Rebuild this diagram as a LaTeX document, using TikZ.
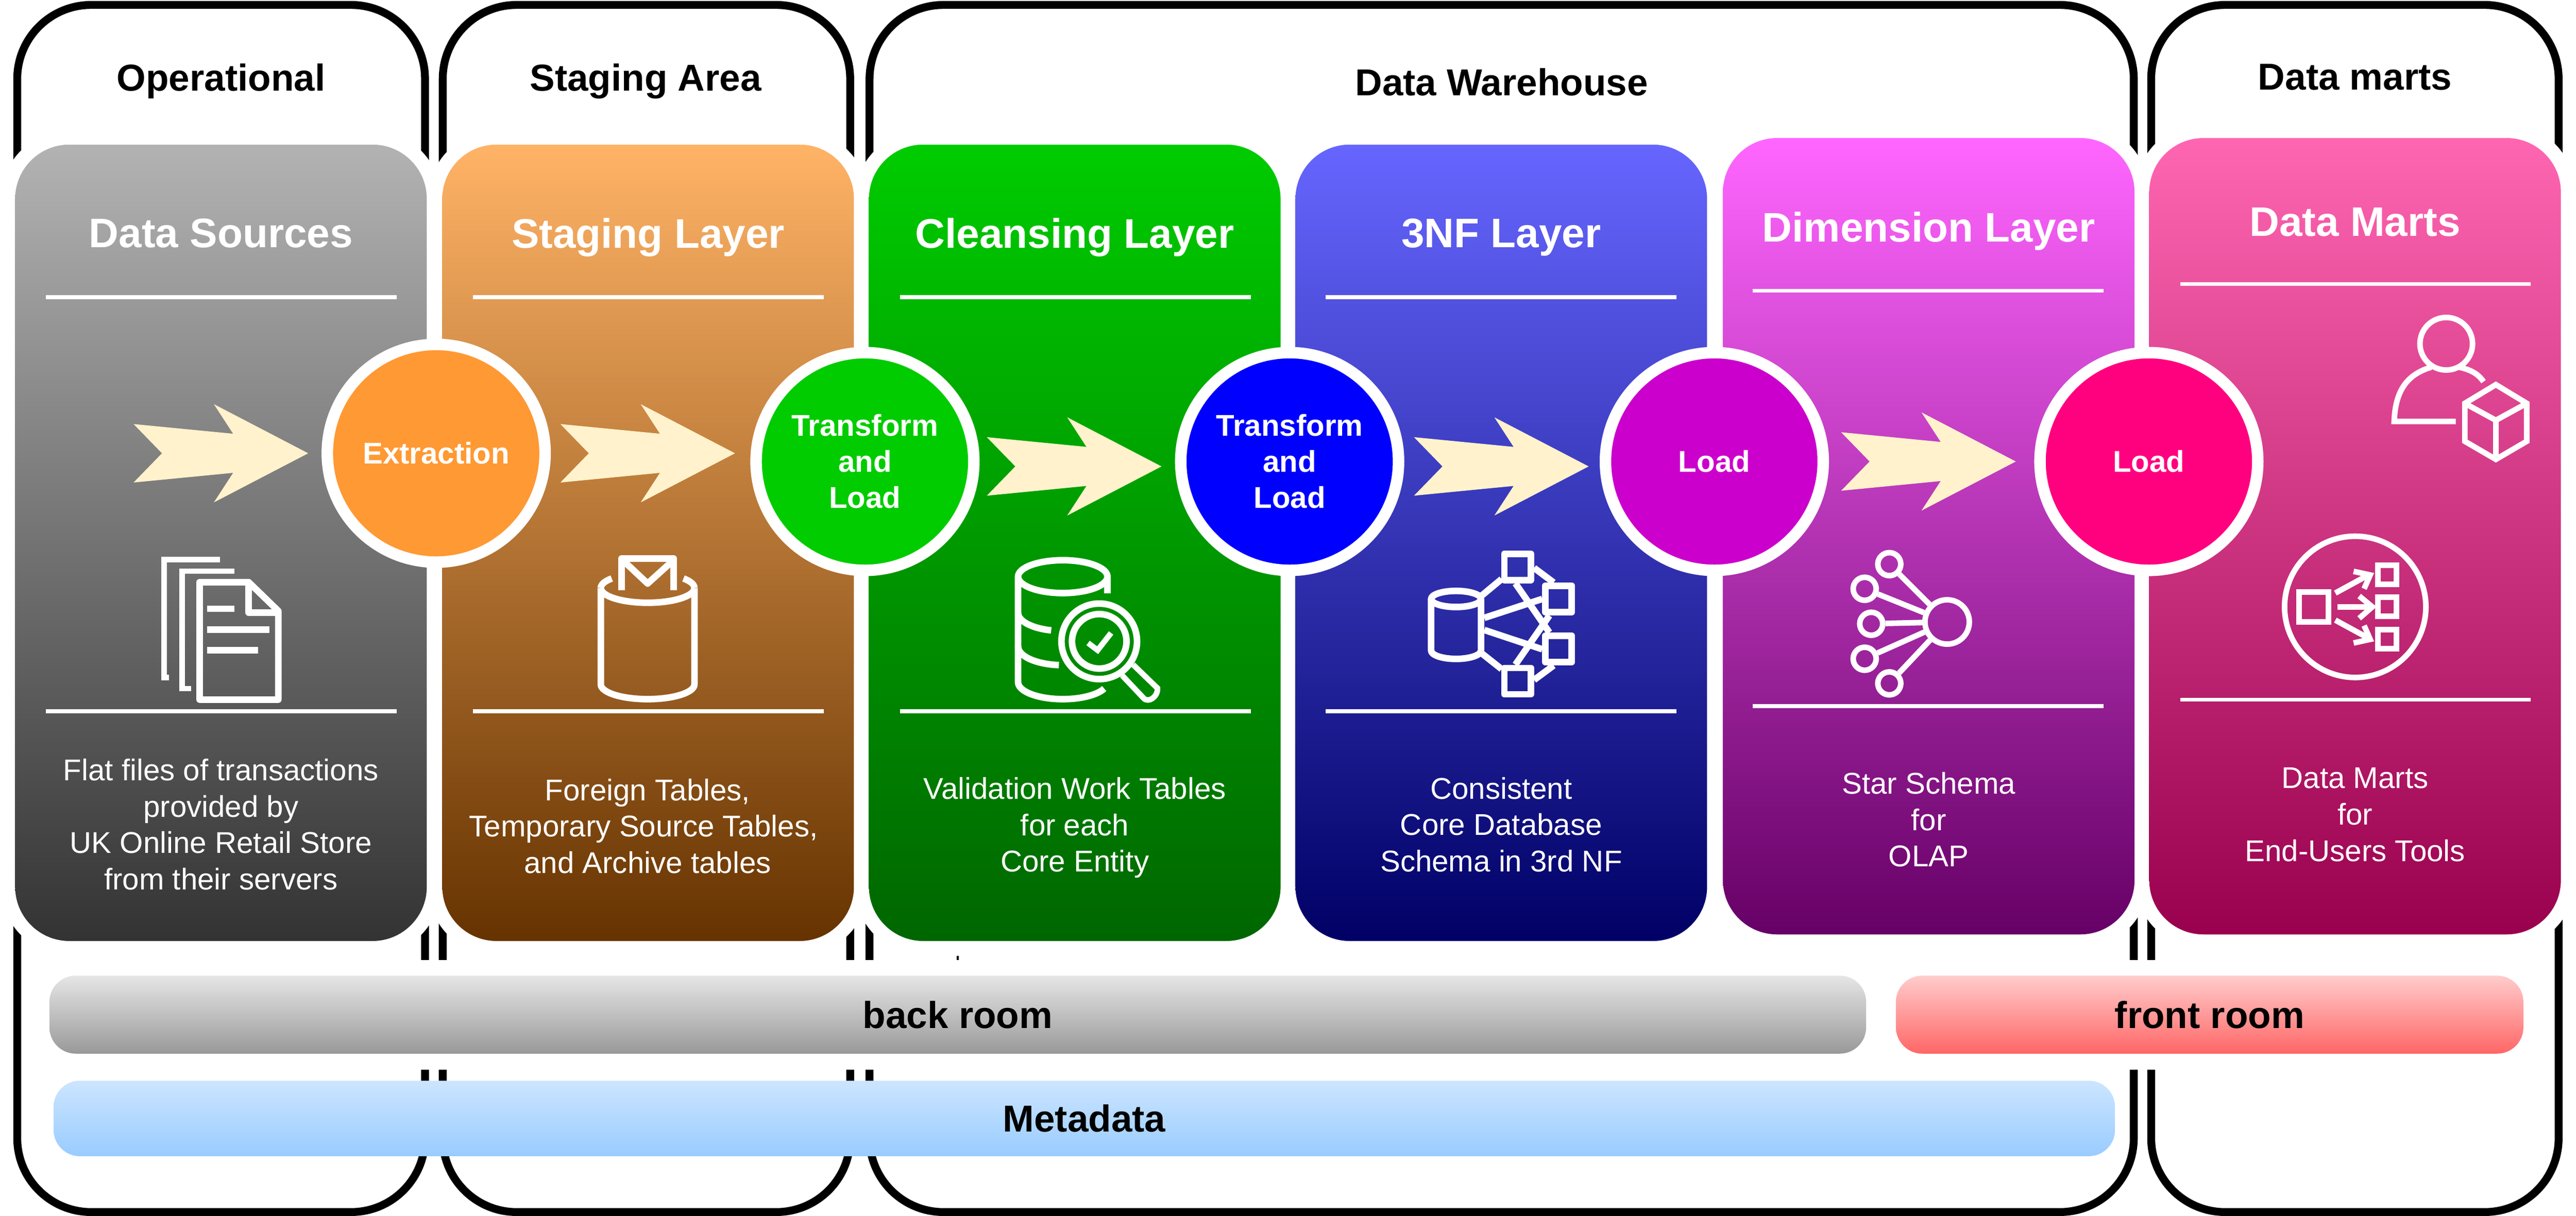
\documentclass[tikz,border=0pt]{standalone}
\usepackage{fontspec}
\setmainfont{Liberation Sans}
\usepackage{tikz}
\definecolor{arrow_cream}{HTML}{FFF2CC}

\begin{document}
\begin{tikzpicture}[x=0.02cm, y=-0.02cm,
                    frame_line/.style={draw=black, line width=.096cm, rounded corners=.9cm},
                    panel_box/.style={rectangle, rounded corners=.66cm, minimum width=5.012cm, minimum height=9.7cm,
                                      inner sep=0pt, preaction={draw=white, line width=.344cm}},
                    bar_box/.style={rectangle, rounded corners=.32cm, inner sep=0pt, minimum height=.95cm,
                                    font=\fontsize{13}{15}\selectfont\bfseries},
                    step_circle/.style={circle, draw=white, line width=.14cm, minimum size=2.652cm, inner sep=0pt, text=white, align=center,
                                        font=\fontsize{10.4}{12.5}\selectfont\bfseries},
                    area_title/.style={text depth=0pt, font=\fontsize{13}{15}\selectfont\bfseries},
                    panel_title/.style={text=white, text depth=0pt, font=\fontsize{14.3}{17}\selectfont\bfseries},
                    panel_text/.style={text=white, align=center, font=\fontsize{10.4}{12.6}\selectfont},
                    rule_line/.style={draw=white, line width=.048cm},
                    icon_line/.style={draw=white, line width=.08cm, line join=round},
                    thin_icon/.style={draw=white, line width=.068cm},
                    block_arrow/.style={fill=arrow_cream}]
    \useasboundingbox (0,0) rectangle (1568,740.3);

    % outer areas
    \draw[frame_line] (10.5,3) rectangle (258.7,738);
    \draw[frame_line] (269.5,3) rectangle (517.5,738);
    \draw[frame_line] (529.3,3) rectangle (1298.8,738);
    \draw[frame_line] (1309.4,3) rectangle (1557.4,738);
    \node (t_operational) [area_title] at (134.5,47) {Operational};
    \node (t_staging) [area_title] at (393,47) {Staging Area};
    \node (t_warehouse) [area_title] at (914,50) {Data Warehouse};
    \node (t_marts) [area_title] at (1433.5,47) {Data marts};

    % layers
    \node (p1) [panel_box, top color=black!30, bottom color=black!80] at (134.5,330.5) {};
    \node (p2) [panel_box, top color={rgb,255:red,255;green,179;blue,102}, bottom color={rgb,255:red,102;green,51;blue,0}] at (394.5,330.5) {};
    \node (p3) [panel_box, top color={rgb,255:red,0;green,204;blue,0}, bottom color={rgb,255:red,0;green,102;blue,0}] at (654.2,330.5) {};
    \node (p4) [panel_box, top color={rgb,255:red,102;green,102;blue,255}, bottom color={rgb,255:red,0;green,0;blue,102}] at (913.8,330.5) {};
    \node (p5) [panel_box, top color={rgb,255:red,255;green,102;blue,255}, bottom color={rgb,255:red,102;green,0;blue,102}] at (1174,326.5) {};
    \node (p6) [panel_box, top color={rgb,255:red,255;green,102;blue,178}, bottom color={rgb,255:red,153;green,0;blue,77}] at (1433.5,326.5) {};

    \foreach \x/\y/\z in {28/181/433, 288/181/433, 548/181/433, 807/181/433, 1067/177/430, 1327/173/426} {
        \draw[rule_line] (\x,\y) -- ++(213.5,0);
        \draw[rule_line] (\x,\z) -- ++(213.5,0);
    }

    \node (h1) [panel_title] at (134.5,142) {Data Sources};
    \node (h2) [panel_title] at (394.5,142) {Staging Layer};
    \node (h3) [panel_title] at (654.2,142) {Cleansing Layer};
    \node (h4) [panel_title] at (913.8,142) {3NF Layer};
    \node (h5) [panel_title] at (1174,138) {Dimension Layer};
    \node (h6) [panel_title] at (1433.5,135) {Data Marts};

    \node (d1) [panel_text] at (134.5,502) {Flat files of transactions\\provided by\\UK Online Retail Store\\from their servers};
    \node (d2) [panel_text] at (394.2,503) {Foreign Tables,\\Temporary Source Tables,\hspace*{.1cm}\mbox{}\\and Archive tables};
    \node (d3) [panel_text] at (654.2,504) {Validation Work Tables\\for each\\Core Entity};
    \node (d4) [panel_text] at (913.8,502) {Consistent\\Core Database\\Schema in 3rd NF};
    \node (d5) [panel_text] at (1174,499) {Star Schema\\for\\OLAP};
    \node (d6) [panel_text] at (1433.5,496) {Data Marts\\for\\End-Users Tools};

    % bars
    \fill[white] (14,584.6) rectangle (1554,651.2);
    \fill[black] (582.4,582.1) rectangle (583.6,584.6);
    \node (back_room) [bar_box, minimum width=22.12cm, top color=black!10, bottom color=black!40] at (583,617.8) {back room};
    \node (front_room) [bar_box, minimum width=7.64cm, top color={rgb,255:red,255;green,204;blue,204}, bottom color={rgb,255:red,255;green,102;blue,102}] at (1345,617.8) {front room};
    \node (metadata) [bar_box, minimum width=25.1cm, minimum height=.92cm, top color={rgb,255:red,204;green,229;blue,255}, bottom color={rgb,255:red,153;green,204;blue,255}] at (660,681) {Metadata};

    % arrows
    \foreach \x/\y in {187.6/276, 447.4/276, 707/284, 967/284, 1227/281} {
        \fill[block_arrow] (\x,\y) -- ++(-57.4,-29.9) -- ++(11.7,18) -- ++(-60.6,-5.9) -- ++(17.3,17.8)
            -- ++(-17.3,17.8) -- ++(60.6,-5.9) -- ++(-11.7,18) -- cycle;
    }

    % steps
    \node (s1) [step_circle, fill={rgb,255:red,255;green,153;blue,51}] at (265.5,276) {Extraction};
    \node (s2) [step_circle, fill={rgb,255:red,0;green,204;blue,0}] at (526.5,281) {Transform\\and\\Load};
    \node (s3) [step_circle, fill={rgb,255:red,0;green,0;blue,255}] at (785,281) {Transform\\and\\Load};
    \node (s4) [step_circle, fill={rgb,255:red,204;green,0;blue,204}] at (1043.5,281) {Load};
    \node (s5) [step_circle, fill={rgb,255:red,255;green,0;blue,127}] at (1308,281) {Load};

    % files icon
    \draw[icon_line] (151.4,354.5) -- (121.5,354.5) -- (121.5,426) -- (169.4,426) -- (169.4,372) -- cycle;
    \draw[icon_line] (151.4,354.5) -- (151.4,373) -- (169.4,373);
    \draw[thin_icon] (142.6,347.8) -- (110.9,347.8) -- (110.9,419.3) -- (116.2,419.3);
    \draw[thin_icon] (133.8,340.6) -- (100,340.6) -- (100,412.6) -- (103,412.6);
    \draw[icon_line] (126,370.7) -- (142.6,370.7);
    \draw[icon_line] (126,383.3) -- (164,383.3);
    \draw[icon_line] (126,395.8) -- (157,395.8);

    % staging icon
    \draw[icon_line] (422.7,358) arc (0:180:28.5 and 9);
    \draw[icon_line] (365.7,358) arc (180:220:28.5 and 9);
    \draw[icon_line] (422.7,358) arc (0:-40:28.5 and 9);
    \draw[icon_line] (365.7,358) -- (365.7,416.7) arc (180:0:28.5 and 9) -- (422.7,358);
    \draw[icon_line] (378.4,359.3) -- (378.4,340) -- (410,340) -- (410,359.3);
    \draw[icon_line] (379,341) -- (394.2,355.3) -- (410,341);

    % cleansing icon
    \draw[icon_line] (646.9,351.1) ellipse (27.2 and 10);
    \draw[icon_line] (619.7,351.1) -- (619.7,415.4) arc (180:22:27.2 and 10.3);
    \draw[icon_line] (674.1,351.1) -- (674.1,361.2);
    \draw[icon_line] (619.7,373.2) arc (180:105:27.2 and 11);
    \draw[icon_line] (619.7,393.6) arc (180:95:27.2 and 11.4);
    \draw[icon_line] (669.1,390.5) circle (23);
    \draw[icon_line] (669.1,390.5) circle (16.6);
    \draw[thin_icon] (662.3,391.5) -- (668.1,395.9) -- (676.3,385.4);
    \draw[thin_icon] (683,411.2) -- (696,425) .. controls (699,428.5) and (705,424) .. (704.5,419) -- (689.7,404.7);

    % 3NF icon
    \draw[icon_line] (886.3,364.7) ellipse (15.2 and 4.9);
    \draw[icon_line] (871.1,364.7) -- (871.1,396.1) arc (180:0:15.2 and 5.1) -- (901.5,364.7);
    \foreach \x/\y in {915.7/337.2, 940.6/356.7, 940.6/387.1, 915.7/406.7} {
        \draw[icon_line] (\x,\y) rectangle ++(16.1,16);
    }
    \draw[icon_line] (902.2,362.4) -- (914,352.6);
    \draw[icon_line] (903.5,376.2) -- (938.7,364.7);
    \draw[icon_line] (903.5,383.6) -- (938.7,395.3);
    \draw[icon_line] (902.4,398.2) -- (914,407.4);
    \draw[icon_line] (933.8,345.8) -- (945.7,354.7);
    \draw[icon_line] (933.8,414) -- (945.7,405.2);
    \draw[icon_line] (922.4,355.2) -- (943.1,385.1);
    \draw[icon_line] (922.4,404.7) -- (943.1,374.8);

    % dimension icon
    \node (hub) [circle, thin_icon, minimum size=.54cm, inner sep=0pt] at (1185.2,378.7) {};
    \node (leaf1) [circle, thin_icon, minimum size=.28cm, inner sep=0pt] at (1150,343.5) {};
    \node (leaf2) [circle, thin_icon, minimum size=.28cm, inner sep=0pt] at (1135,358.5) {};
    \node (leaf3) [circle, thin_icon, minimum size=.28cm, inner sep=0pt] at (1139,379.8) {};
    \node (leaf4) [circle, thin_icon, minimum size=.28cm, inner sep=0pt] at (1135,401.1) {};
    \node (leaf5) [circle, thin_icon, minimum size=.28cm, inner sep=0pt] at (1150,416.1) {};
    \draw[thin_icon] (leaf1) edge (hub);
    \draw[thin_icon] (leaf2) edge (hub);
    \draw[thin_icon] (leaf3) edge (hub);
    \draw[thin_icon] (leaf4) edge (hub);
    \draw[thin_icon] (leaf5) edge (hub);

    % data marts icons
    \draw[thin_icon] (1489,209.3) circle (16);
    \draw[thin_icon] (1511.7,232.4) .. controls (1508,227) and (1503,225) .. (1497,223.6);
    \draw[thin_icon] (1479.8,223.6) .. controls (1465,228) and (1458,238) .. (1457.3,256.6) -- (1494.8,256.6);
    \draw[thin_icon] (1519.2,234.2) -- (1538,245.6) -- (1538,268.7) -- (1519.2,279.7) -- (1500.3,268.7) -- (1500.3,245.6) -- cycle;
    \draw[thin_icon] (1500.3,245.6) -- (1519.2,255.9) -- (1538,245.6);
    \draw[thin_icon] (1519.2,255.9) -- (1519.2,279.7);

    \draw[thin_icon] (1433.6,369.5) circle (43);
    \draw[thin_icon] (1399.3,360.4) rectangle (1417.4,378.7);
    \foreach \y in {344.3, 363.7, 383.5} {
        \draw[thin_icon] (1447.5,\y) rectangle ++(11.3,11.6);
    }
    \draw[thin_icon] (1422.8,369.5) -- (1443,369.5);
    \draw[thin_icon] (1436,362.9) -- (1444,369.5) -- (1436,376.5);
    \draw[thin_icon] (1421.5,361.1) -- (1441.7,350.1);
    \draw[thin_icon] (1432.6,347.9) -- (1442.7,350.1) -- (1439,358.5);
    \draw[thin_icon] (1421.5,377.6) -- (1441.7,388.6);
    \draw[thin_icon] (1432.6,391.5) -- (1442.7,389.3) -- (1439,380.9);
\end{tikzpicture}
\end{document}
